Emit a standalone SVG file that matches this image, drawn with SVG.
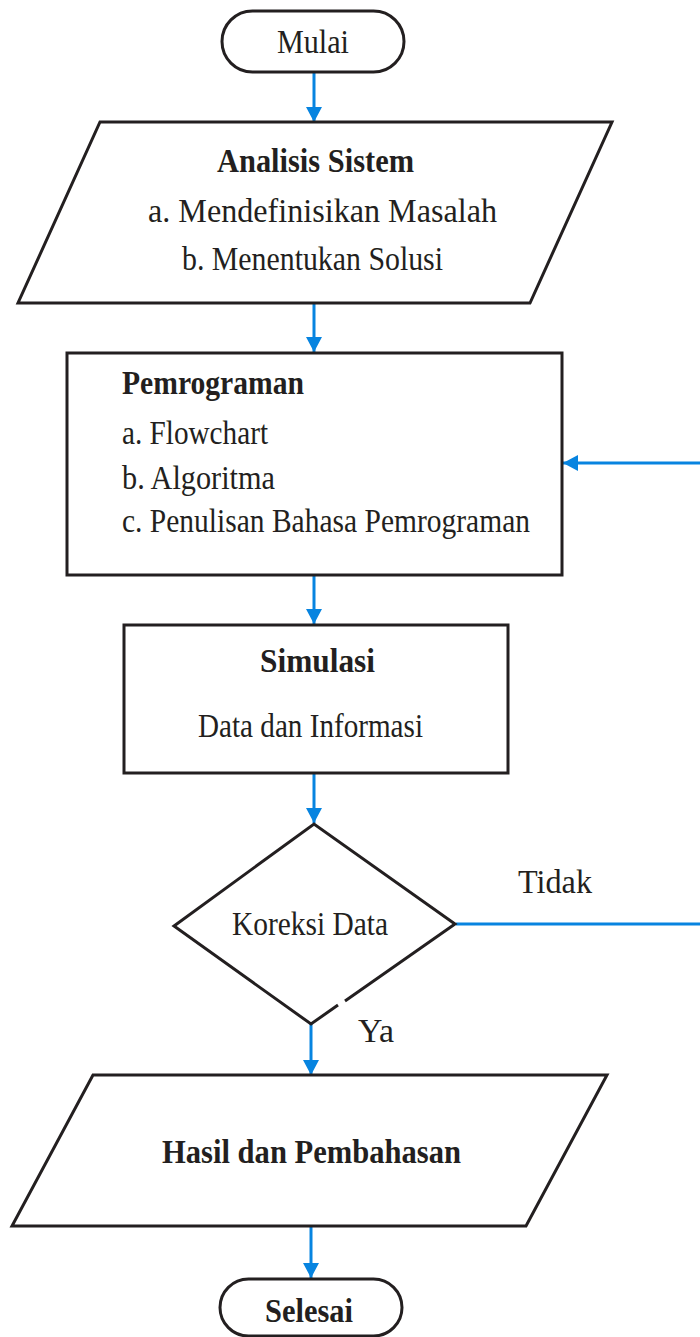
<svg xmlns="http://www.w3.org/2000/svg" width="700" height="1337" viewBox="0 0 700 1337">
  <style>
    .shape { fill: #ffffff; stroke: #231f20; stroke-width: 3; stroke-linejoin: miter; }
    .flow { fill: none; stroke: #0784e0; stroke-width: 3; }
    text { font-family: "Liberation Serif", "Times New Roman", serif; fill: #231f20; font-size: 33px; }
    .b { font-weight: bold; }
    .c { text-anchor: middle; }
  </style>
  <defs>
    <marker id="arrow" markerUnits="userSpaceOnUse" markerWidth="16" markerHeight="16" refX="15" refY="8" orient="auto">
      <path d="M0,0 L15,8 L0,16 Z" fill="#0784e0"/>
    </marker>
  </defs>
  <rect width="700" height="1337" fill="#ffffff"/>

  <!-- connectors -->
  <g id="connectors">
    <line class="flow" x1="314" y1="73" x2="314" y2="122" marker-end="url(#arrow)"/>
    <line class="flow" x1="314" y1="303" x2="314" y2="352" marker-end="url(#arrow)"/>
    <line class="flow" x1="314" y1="576" x2="314" y2="624" marker-end="url(#arrow)"/>
    <line class="flow" x1="314" y1="774" x2="314" y2="823" marker-end="url(#arrow)"/>
    <line class="flow" x1="311" y1="1024" x2="311" y2="1075" marker-end="url(#arrow)"/>
    <line class="flow" x1="311" y1="1227" x2="311" y2="1278" marker-end="url(#arrow)"/>
    <!-- "Tidak" branch loops back to Pemrograman -->
    <line class="flow" x1="456" y1="924" x2="702" y2="924"/>
    <line class="flow" x1="702" y1="463" x2="563" y2="463" marker-end="url(#arrow)"/>
    <text x="518" y="893" textLength="74" lengthAdjust="spacingAndGlyphs">Tidak</text>
    <text x="358" y="1042" textLength="36" lengthAdjust="spacingAndGlyphs">Ya</text>
  </g>

  <!-- start -->
  <g id="mulai">
    <rect class="shape" x="222" y="11" width="182" height="61" rx="30.5"/>
    <text class="c" x="313" y="53" textLength="72" lengthAdjust="spacingAndGlyphs">Mulai</text>
  </g>

  <!-- system analysis -->
  <g id="analisis-sistem">
    <polygon class="shape" points="100,122 612,122 530,303 18,303"/>
    <text class="b" x="217" y="172" textLength="197" lengthAdjust="spacingAndGlyphs">Analisis Sistem</text>
    <text x="148" y="222" textLength="349" lengthAdjust="spacingAndGlyphs">a. Mendefinisikan Masalah</text>
    <text x="182" y="270" textLength="261" lengthAdjust="spacingAndGlyphs">b. Menentukan Solusi</text>
  </g>

  <!-- programming -->
  <g id="pemrograman">
    <rect class="shape" x="67" y="353" width="495" height="222"/>
    <text class="b" x="122" y="394" textLength="182" lengthAdjust="spacingAndGlyphs">Pemrograman</text>
    <text x="122" y="444" textLength="146" lengthAdjust="spacingAndGlyphs">a. Flowchart</text>
    <text x="122" y="489" textLength="153" lengthAdjust="spacingAndGlyphs">b. Algoritma</text>
    <text x="122" y="532" textLength="408" lengthAdjust="spacingAndGlyphs">c. Penulisan Bahasa Pemrograman</text>
  </g>

  <!-- simulation -->
  <g id="simulasi">
    <rect class="shape" x="124" y="625" width="384" height="148"/>
    <text class="b" x="260" y="672" textLength="115" lengthAdjust="spacingAndGlyphs">Simulasi</text>
    <text x="198" y="737" textLength="225" lengthAdjust="spacingAndGlyphs">Data dan Informasi</text>
  </g>

  <!-- decision -->
  <g id="koreksi-data">
    <polygon points="314,824 455,924 311,1024 174,926" fill="#ffffff" stroke="none"/>
    <polyline class="shape" fill="none" points="338,1005 311,1024 174,926 314,824 455,924 345,1001"/>
    <text x="232" y="935" textLength="156" lengthAdjust="spacingAndGlyphs">Koreksi Data</text>
  </g>

  <!-- results -->
  <g id="hasil">
    <polygon class="shape" points="93,1075 607,1075 526,1226 12,1226"/>
    <text class="b" x="162" y="1163" textLength="299" lengthAdjust="spacingAndGlyphs">Hasil dan Pembahasan</text>
  </g>

  <!-- end -->
  <g id="selesai">
    <rect class="shape" x="220" y="1279" width="182" height="57" rx="28.5"/>
    <text class="b" x="265" y="1322" textLength="88" lengthAdjust="spacingAndGlyphs">Selesai</text>
  </g>
</svg>
